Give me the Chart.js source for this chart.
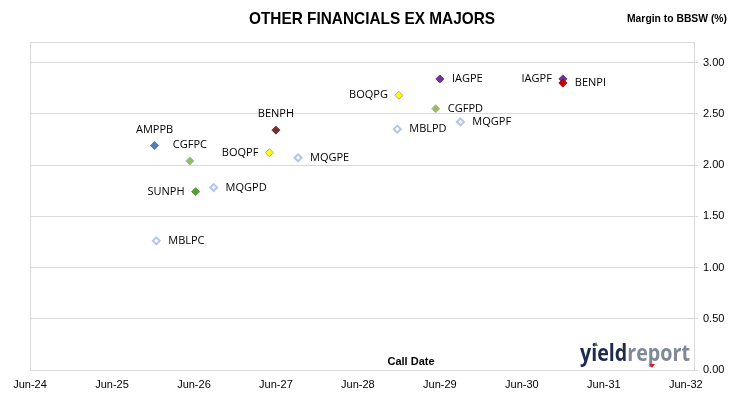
<!DOCTYPE html>
<html>
<head>
<meta charset="utf-8">
<script src="https://cdn.jsdelivr.net/npm/chart.js@4.4.1/dist/chart.umd.min.js"></script>
<style>
  body { margin: 0; background: #fff; }
  #wrap { position: relative; width: 730px; height: 399px; }
</style>
</head>
<body>
<div id="wrap"><canvas id="chart"></canvas></div>
<script>
// securities, call date (decimal years, 2025.5 = mid-2025) and margin to BBSW (%)
const codes = ["AMPPB", "CGFPC", "SUNPH", "MQGPD", "MBLPC", "BOQPF", "BENPH", "MQGPE",
  "BOQPG", "MBLPD", "CGFPD", "IAGPE", "MQGPF", "IAGPF", "BENPI"]
const callDates = [2025.52, 2025.95, 2026.02, 2026.24, 2025.54, 2026.92, 2027.0, 2027.27,
  2028.5, 2028.48, 2028.95, 2029.0, 2029.25, 2030.5, 2030.5]
const margins = [2.19, 2.04, 1.74, 1.78, 1.26, 2.12, 2.34, 2.07,
  2.68, 2.35, 2.55, 2.84, 2.42, 2.84, 2.80]
const xTicks = [2024, 2025, 2026, 2027, 2028, 2029, 2030, 2031, 2032]
const yTicks = [0, 0.5, 1, 1.5, 2, 2.5, 3]

// marker look per security
const fills = ["#4f81bd", "#9bbb59", "#5b9a3c", "#fff", "#fff", "#ffff00", "#7b2c2c", "#fff",
  "#ffff00", "#fff", "#9bbb59", "#7030a0", "#fff", "#7030a0", "#c00000"]
const edges = ["#4f81bd", "#95b3d7", "#5b9a3c", "#b4c6e7", "#b4c6e7", "#a6a6a6", "#7b2c2c", "#b4c6e7",
  "#a6a6a6", "#b4c6e7", "#95b3d7", "#7030a0", "#b4c6e7", "#7030a0", "#c00000"]
const hollow = fills.map((f) => f === "#fff")
// where each label sits relative to its marker
const labelSide = ["above", "above", "left", "right", "right", "left", "above", "right",
  "left", "right", "right", "right", "right", "left", "right"]

function fitText(ctx, text, cx, cy, maxW) {
  const w = ctx.measureText(text).width
  ctx.save()
  ctx.translate(cx, cy)
  if (w > maxW) ctx.scale(maxW / w, 1)
  ctx.fillText(text, 0, 0)
  ctx.restore()
}

const decorations = {
  id: "decorations",
  beforeDatasetsDraw(chart) {
    const { ctx, chartArea: a } = chart
    ctx.save()
    ctx.strokeStyle = "#d9d9d9"
    ctx.lineWidth = 1
    ctx.strokeRect(Math.round(a.left) + 0.5, Math.round(a.top) + 0.5, Math.round(a.right - a.left), Math.round(a.bottom - a.top))

    // logo
    ctx.textBaseline = "alphabetic"
    ctx.textAlign = "left"
    ctx.font = "bold 23px 'Open Sans'"
    const w1 = ctx.measureText("yield").width
    const w2 = ctx.measureText("report").width
    const sx = 110 / (w1 + w2)
    ctx.translate(580, 361)
    ctx.scale(sx, 1)
    ctx.fillStyle = "#1f2a4d"
    ctx.fillText("yield", 0, 0)
    ctx.fillStyle = "#7f8897"
    ctx.fillText("report", w1, 0)
    ctx.restore()

    ctx.save()
    ctx.fillStyle = "#3a8a3a"
    ctx.beginPath()
    ctx.moveTo(594, 346); ctx.lineTo(598, 346); ctx.lineTo(596, 342); ctx.closePath(); ctx.fill()
    ctx.fillStyle = "#e02020"
    ctx.beginPath()
    ctx.moveTo(649, 364); ctx.lineTo(655, 364); ctx.lineTo(652, 368); ctx.closePath(); ctx.fill()

    ctx.fillStyle = "#000"
    ctx.textAlign = "center"
    ctx.textBaseline = "middle"
    ctx.font = "bold 17px 'Liberation Sans Narrow', 'Liberation Sans'"
    fitText(ctx, "OTHER FINANCIALS EX MAJORS", 372, 19, 246)
    ctx.font = "bold 11px 'Liberation Sans Narrow', 'Liberation Sans'"
    fitText(ctx, "Margin to BBSW (%)", 677, 19, 100)
    fitText(ctx, "Call Date", 411, 362, 48)
    ctx.restore()
  },
  afterDatasetsDraw(chart) {
    const { ctx } = chart
    const pts = chart.getDatasetMeta(0).data
    ctx.save()
    ctx.fillStyle = "#000"
    ctx.font = "11px 'Open Sans'"
    ctx.textBaseline = "middle"
    pts.forEach((p, i) => {
      const side = labelSide[i]
      if (side === "right") {
        ctx.textAlign = "left"
        ctx.fillText(codes[i], p.x + 12, p.y)
      } else if (side === "left") {
        ctx.textAlign = "right"
        ctx.fillText(codes[i], p.x - 11, p.y)
      } else {
        ctx.textAlign = "center"
        ctx.fillText(codes[i], p.x, p.y - 16)
      }
    })
    ctx.restore()
  }
}

new Chart(document.getElementById("chart"), {
  type: "scatter",
  data: {
    datasets: [{
      data: callDates.map((d, i) => ({ x: d, y: margins[i] })),
      pointStyle: "rectRot",
      pointRadius: hollow.map((h) => (h ? 3.5 : 4)),
      pointBorderWidth: hollow.map((h) => (h ? 2 : 1)),
      pointBackgroundColor: fills,
      pointBorderColor: edges
    }]
  },
  options: {
    responsive: true,
    maintainAspectRatio: false,
    animation: false,
    layout: { padding: { left: 30, top: 42, right: 0, bottom: 0 } },
    plugins: { legend: { display: false }, tooltip: { enabled: false } },
    scales: {
      x: {
        type: "linear",
        min: 2024,
        max: 2032.1,
        afterBuildTicks: (s) => { s.ticks = xTicks.map((v) => ({ value: v })) },
        afterFit: (s) => { s.height = 29 },
        grid: { display: false, drawTicks: false },
        border: { display: false },
        ticks: {
          padding: 8,
          maxRotation: 0,
          autoSkip: false,
          color: "#000",
          font: { family: "'Liberation Sans'", size: 11 },
          callback: (v) => "Jun-" + String(v).slice(2)
        }
      },
      y: {
        position: "right",
        min: 0,
        max: 3.2,
        afterBuildTicks: (s) => { s.ticks = yTicks.map((v) => ({ value: v })) },
        afterFit: (s) => { s.width = 36 },
        grid: { color: "#d9d9d9", tickLength: 4 },
        border: { display: false },
        ticks: {
          padding: 5,
          color: "#000",
          font: { family: "'Liberation Sans'", size: 11 },
          callback: (v) => v.toFixed(2)
        }
      }
    }
  },
  plugins: [decorations]
})
</script>
</body>
</html>
